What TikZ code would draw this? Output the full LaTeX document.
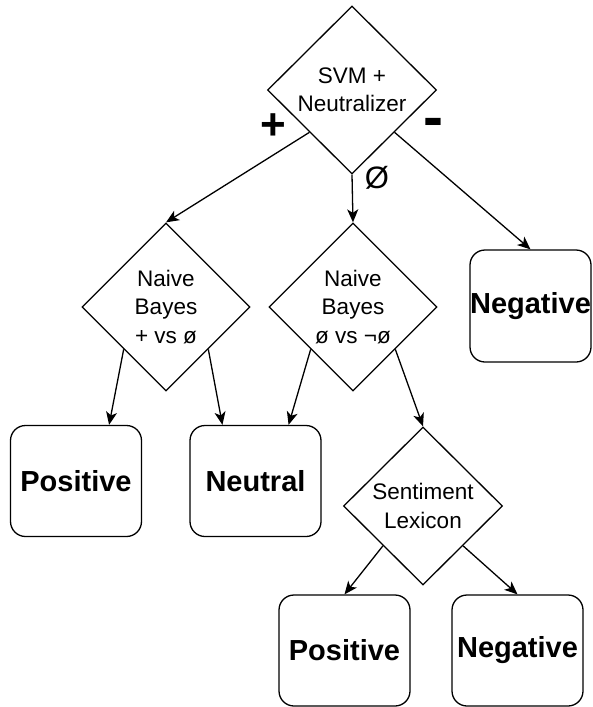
\documentclass[tikz,border=0pt]{standalone}
\usepackage{fontspec}
\setmainfont{Liberation Sans}
\usetikzlibrary{shapes.geometric,arrows.meta,calc}
\tikzset{
  dia/.style={diamond, draw, line width=1.3pt, inner sep=0pt, align=center, font=\fontsize{22.5}{28.5}\selectfont},
  outbox/.style={rectangle, draw, line width=1.3pt, rounded corners=15pt, inner sep=0pt, minimum width=131pt, minimum height=111pt, font=\fontsize{29}{32}\selectfont\bfseries},
  conn/.style={line width=1.3pt, -{Stealth[length=13pt,width=11pt,inset=3.5pt]}},
  lbl/.style={inner sep=0pt}
}
\begin{document}
\begin{tikzpicture}[x=1pt,y=-1pt]
\useasboundingbox (0,0) rectangle (592,707);
\node[dia, minimum width=169pt, minimum height=168pt] (top) at (352,90) {SVM +\\Neutralizer};
\node[dia, minimum width=168pt, minimum height=168pt] (nb1) at (166,307) {Naive\\Bayes\\+ vs ø};
\node[dia, minimum width=168pt, minimum height=168pt] (nb2) at (353,307) {Naive\\Bayes\\ø vs ¬ø};
\node[dia, minimum width=159pt, minimum height=158pt] (sent) at (423,506) {Sentiment\\Lexicon};
\node[outbox] (pos1) at (76,481) {Positive};
\node[outbox] (neu) at (255.5,481) {Neutral};
\node[outbox, minimum width=121pt, minimum height=112pt] (neg1) at (530.5,306) {Negative};
\node[outbox] (pos2) at (344.5,650.5) {Positive};
\node[outbox] (neg2) at (517.5,650.5) {Negative};
\node[lbl, font=\fontsize{44}{44}\selectfont\bfseries] (lplus) at (273,127) {+};
\node[lbl, font=\fontsize{60}{60}\selectfont\bfseries] (lminus) at (433,128) {-};
\node[lbl, font=\fontsize{31}{31}\selectfont] (lnull) at (377,178) {Ø};
\draw[conn] ($(top.west)!0.5!(top.south)$) -- (nb1.north);
\draw[conn] (top.south) -- (nb2.north);
\draw[conn] ($(top.east)!0.5!(top.south)$) -- (neg1.north);
\draw[conn] ($(nb1.west)!0.5!(nb1.south)$) -- ($(pos1.north)!0.5!(pos1.north east)$);
\draw[conn] ($(nb1.east)!0.5!(nb1.south)$) -- ($(neu.north)!0.5!(neu.north west)$);
\draw[conn] ($(nb2.west)!0.5!(nb2.south)$) -- ($(neu.north)!0.5!(neu.north east)$);
\draw[conn] ($(nb2.east)!0.5!(nb2.south)$) -- (sent.north);
\draw[conn] ($(sent.west)!0.5!(sent.south)$) -- (pos2.north);
\draw[conn] ($(sent.east)!0.5!(sent.south)$) -- (neg2.north);
\end{tikzpicture}
\end{document}
